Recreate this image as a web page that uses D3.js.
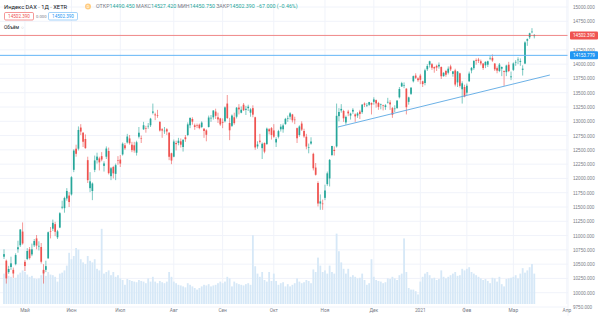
<!DOCTYPE html>
<html>
<head>
<meta charset="utf-8">
<script src="https://cdn.jsdelivr.net/npm/d3@7"></script>
<style>
  body { margin: 0; background: #fff; }
  svg { display: block; font-family: Roboto, "Noto Sans", sans-serif; }
</style>
</head>
<body>
<script>
// daily bars, DAX (XETR), 20 Apr 2020 - 12 Mar 2021: [open, high, low, close]
var candles = [
  // Apr
  [10630,10760,10590,10675],[10560,10580,10160,10250],[10360,10470,10330,10415],[10450,10630,10400,10514],[10400,10440,10260,10336],
  [10500,10690,10480,10659],[10760,10910,10700,10796],[10830,11110,10800,11107],[11070,11230,10840,10862],
  // May
  [10540,10570,10380,10467],[10590,10780,10570,10730],[10760,10800,10580,10606],[10670,10860,10640,10759],[10830,10940,10800,10904],
  [10950,11010,10760,10824],[10820,10900,10740,10820],[10800,10870,10510,10542],[10400,10500,10160,10337],[10400,10560,10360,10465],
  [10600,11070,10600,11058],[11080,11150,10950,11075],[11120,11280,11080,11223],[11200,11240,10990,11066],[10970,11100,10940,11074],
  [11140,11410,11130,11391],[11490,11610,11460,11504],[11480,11680,11400,11657],[11650,11830,11610,11781],[11700,11760,11500,11587],
  // Jun
  [11720,12040,11700,12021],[12150,12510,12110,12487],[12520,12590,12380,12431],[12520,12910,12490,12848],[12890,12950,12760,12820],
  [12800,12810,12550,12642],[12690,12770,12520,12530],[12320,12380,11920,11970],[11830,12110,11760,11949],[11780,11930,11620,11911],
  [12150,12400,12110,12315],[12320,12450,12260,12382],[12350,12380,12140,12281],[12390,12460,12300,12331],[12220,12300,12120,12262],
  [12380,12560,12340,12523],[12480,12540,12070,12093],[12040,12200,11970,12178],[12200,12220,12000,12089],[12080,12260,11970,12232],
  [12320,12390,12240,12311],
  // Jul
  [12330,12410,12200,12260],[12420,12630,12400,12608],[12580,12620,12500,12528],[12630,12780,12610,12733],[12700,12760,12590,12616],
  [12590,12640,12460,12495],[12580,12640,12450,12489],[12450,12660,12400,12633],[12730,12900,12700,12800],[12700,12750,12620,12697],
  [12860,12990,12850,12931],[12880,12920,12800,12874],[12920,12970,12870,12920],[12930,13060,12900,13046],[13150,13310,13120,13171],
  [13120,13150,13020,13104],[13110,13200,13060,13103],[12990,13000,12820,12838],[12860,12880,12710,12838],[12830,12900,12780,12836],
  [12860,12880,12760,12822],[12800,12810,12320,12379],[12440,12450,12250,12313],
  // Aug
  [12380,12680,12370,12646],[12620,12660,12490,12600],[12620,12710,12580,12660],[12650,12700,12540,12591],[12550,12690,12470,12674],
  [12720,12760,12640,12687],[12760,12980,12740,12946],[12930,13070,12880,13058],[13040,13070,12940,12993],[12930,12960,12850,12901],
  [12930,12960,12880,12920],[12940,12960,12860,12881],[12900,13000,12880,12977],[12870,12880,12710,12830],[12840,12860,12650,12764],
  [12900,13100,12890,13066],[13060,13110,12990,13061],[13070,13190,13030,13190],[13170,13220,13040,13096],[13070,13150,12970,13033],
  [13050,13060,12920,12945],
  // Sep
  [12990,13050,12880,12974],[13000,13260,12980,13243],[13310,13460,13040,13057],[12970,13060,12670,12842],[12920,13120,12900,13100],
  [13070,13150,12940,12968],[13080,13250,13050,13237],[13240,13300,13120,13209],[13150,13260,13140,13202],[13290,13320,13180,13194],
  [13200,13270,13110,13218],[13230,13290,13180,13256],[13150,13230,13080,13208],[13230,13280,13070,13116],[13070,13080,12500,12542],
  [12560,12650,12520,12594],[12660,12780,12610,12642],[12530,12630,12340,12607],[12620,12630,12440,12469],[12600,12890,12590,12871],
  [12860,12880,12770,12825],[12880,12900,12680,12761],
  // Oct
  [12840,12950,12710,12731],[12630,12720,12550,12689],[12730,12850,12700,12828],[12860,12950,12820,12906],[12860,12960,12800,12928],
  [12950,13060,12940,13042],[13040,13100,12990,13051],[13080,13160,13030,13139],[13120,13130,12980,13018],[13030,13080,12950,13028],
  [12880,12890,12620,12703],[12760,12930,12730,12909],[12960,13000,12830,12854],[12830,12870,12710,12736],[12730,12780,12510,12558],
  [12540,12610,12440,12543],[12610,12720,12590,12646],[12430,12450,12140,12178],[12190,12270,12050,12064],[11920,11950,11510,11561],
  [11560,11720,11450,11598],[11560,11630,11450,11556],
  // Nov
  [11660,11890,11620,11789],[11900,12120,11870,12089],[12000,12340,11860,12324],[12410,12570,12390,12568],[12500,12560,12400,12480],
  [12560,13310,12540,13096],[13090,13230,13000,13163],[13190,13300,13150,13217],[13180,13200,12990,13052],[12980,13100,12940,13077],
  [13170,13200,13090,13139],[13100,13150,13030,13134],[13170,13230,13130,13201],[13120,13140,12990,13086],[13100,13160,13060,13137],
  [13170,13200,13040,13127],[13160,13300,13130,13292],[13310,13330,13250,13290],[13280,13320,13250,13286],[13290,13340,13270,13336],
  [13320,13330,13120,13291],
  // Dec
  [13340,13420,13290,13382],[13370,13380,13240,13313],[13320,13340,13200,13252],[13290,13310,13210,13298],[13280,13290,13190,13271],
  [13250,13300,13200,13278],[13340,13410,13310,13340],[13330,13370,13200,13296],[13230,13250,13060,13114],[13220,13280,13160,13223],
  [13230,13370,13220,13362],[13420,13600,13400,13565],[13610,13690,13600,13667],[13630,13680,13580,13630],[13570,13580,13120,13246],
  [13340,13430,13290,13418],[13480,13600,13460,13587],[13700,13800,13680,13790],[13800,13840,13740,13761],[13750,13770,13690,13719],
  // Jan
  [13800,13830,13650,13726],[13700,13710,13600,13651],[13670,13920,13630,13892],[13910,14000,13880,13968],[13990,14060,13940,14050],
  [14000,14020,13900,13937],[13950,13960,13850,13925],[13970,13990,13880,13940],[13960,14030,13920,13989],[13950,13960,13740,13788],
  [13790,13860,13780,13848],[13880,13900,13780,13815],[13850,13960,13820,13921],[13960,13990,13880,13907],[13830,13880,13780,13873],
  [13890,13920,13610,13643],[13680,13880,13600,13871],[13840,13850,13590,13620],[13560,13700,13310,13665],[13600,13640,13420,13433],
  // Feb
  [13500,13660,13460,13622],[13700,13870,13690,13835],[13890,13950,13840,13934],[13930,14060,13900,14060],[14070,14100,13990,14057],
  [14080,14110,14020,14059],[14050,14080,13980,14012],[14010,14020,13900,13933],[13980,14050,13930,14040],[13990,14060,13950,14050],
  [14100,14140,14070,14109],[14110,14170,14040,14064],[14010,14020,13880,13909],[13930,13960,13840,13887],[13880,14020,13860,13993],
  [13920,13960,13790,13950],[13880,13890,13620,13865],[13860,13990,13790,13976],[13990,14040,13860,13879],[13770,13870,13720,13786],
  // Mar
  [13900,14030,13880,14012],[14030,14070,13970,14039],[14070,14120,14000,14080],[14040,14100,13970,14056],[13900,13980,13800,13921],
  [14010,14400,14000,14380],[14410,14450,14320,14437],[14470,14550,14440,14540],[14560,14630,14540,14569],[14490,14527,14451,14502]
];

// volume, millions
var volumes = [
  95,100,88,85,80,82,92,98,105,
  100,92,85,88,80,78,80,90,105,88,100,92,90,85,70,95,98,105,120,160,
  140,150,175,170,140,130,125,150,135,130,140,110,105,235,95,100,105,90,100,85,90,
  80,75,60,78,75,72,70,68,75,72,70,65,80,70,85,70,65,72,68,65,70,100,85,
  70,65,60,58,55,52,65,60,55,50,45,50,55,60,58,62,55,58,60,65,70,
  65,70,85,80,55,70,65,62,60,58,62,65,60,215,118,95,85,100,75,70,100,72,
  95,72,60,65,68,55,62,55,60,65,80,70,65,68,75,72,65,108,100,145,120,100,
  105,95,120,100,95,220,165,130,110,95,110,85,90,85,80,82,95,75,60,65,140,
  85,75,72,70,65,68,80,78,85,80,75,90,95,205,100,50,45,45,40,30,
  70,85,95,100,90,80,82,75,78,105,85,80,85,90,95,100,88,90,110,105,
  110,115,100,95,90,85,80,75,78,72,65,82,80,70,85,62,55,78,80,82,
  85,90,80,95,112,98,105,115,125,95
];

var monthLabels = ['Май', 'Июн', 'Июл', 'Авг', 'Сен', 'Окт', 'Ноя', 'Дек', '2021', 'Фев', 'Мар', 'Апр'];
var monthBars = [9, 29, 50, 73, 94, 116, 138, 159, 179, 199, 219, 242];
var priceTicks = d3.range(9750, 15001, 250);
var trendLine = [[143.6, 12900], [234.7, 13810]];
var lastPrice = 14502.39, levelPrice = 14153.779;
var ohlcLabels = ['ОТКР', 'МАКС', 'МИН', 'ЗАКР'];
var ohlcValues = ['14490.450', '14527.420', '14450.750', '14502.390'];
var change = '−67.000 (−0.46%)';

var W = 600, H = 316, plotRight = 568;
var up = '#26a69a', down = '#ef5350', grid = '#f0f3fa', textGrey = '#787b86';

var svg = d3.select('body').append('svg').attr('width', W).attr('height', H);

var x = d3.scaleLinear().domain([0, 228]).range([4, 534.3]);
var y = d3.scaleLinear().domain([9750, 15000]).range([307, 7]);
var yVol = d3.scaleLinear().domain([0, 250]).range([304, 224]);

/* ----------- GRID ----------- */

svg.append('g').selectAll('line.h').data(priceTicks).enter().append('line')
    .attr('x1', 0).attr('x2', plotRight)
    .attr('y1', function (d) { return y(d); }).attr('y2', function (d) { return y(d); })
    .attr('stroke', grid).attr('stroke-width', 1);

svg.append('g').selectAll('line.v').data(monthBars).enter().append('line')
    .attr('x1', function (d) { return x(d); }).attr('x2', function (d) { return x(d); })
    .attr('y1', 0).attr('y2', 304)
    .attr('stroke', grid).attr('stroke-width', 1);

/* ----------- VOLUME ----------- */

svg.append('g').selectAll('rect').data(volumes).enter().append('rect')
    .attr('x', function (d, i) { return x(i) - 0.9; })
    .attr('width', 1.8)
    .attr('y', function (d) { return yVol(d); })
    .attr('height', function (d) { return yVol(0) - yVol(d); })
    .attr('fill', '#d6e8f7');

/* ----------- CANDLES ----------- */

var bar = svg.append('g').selectAll('g').data(candles).enter().append('g');

bar.append('line')
    .attr('x1', function (d, i) { return x(i); }).attr('x2', function (d, i) { return x(i); })
    .attr('y1', function (d) { return y(d[1]); }).attr('y2', function (d) { return y(d[2]); })
    .attr('stroke', function (d) { return d[3] >= d[0] ? up : down; })
    .attr('stroke-width', 0.6);

bar.append('rect')
    .attr('x', function (d, i) { return x(i) - 0.85; })
    .attr('width', 1.7)
    .attr('y', function (d) { return y(Math.max(d[0], d[3])); })
    .attr('height', function (d) { return Math.max(0.6, Math.abs(y(d[0]) - y(d[3]))); })
    .attr('fill', function (d) { return d[3] >= d[0] ? up : down; });

/* ----------- LEVELS ----------- */

svg.append('line')
    .attr('x1', 0).attr('x2', plotRight).attr('y1', y(lastPrice)).attr('y2', y(lastPrice))
    .attr('stroke', '#ef5350').attr('stroke-opacity', 0.75).attr('stroke-width', 0.9);

svg.append('line')
    .attr('x1', 0).attr('x2', plotRight).attr('y1', y(levelPrice)).attr('y2', y(levelPrice))
    .attr('stroke', '#64b5f6').attr('stroke-width', 1);

svg.append('line')
    .attr('x1', x(trendLine[0][0])).attr('y1', y(trendLine[0][1]))
    .attr('x2', x(trendLine[1][0])).attr('y2', y(trendLine[1][1]))
    .attr('stroke', '#5ba8e3').attr('stroke-width', 0.9);

/* ----------- AXES ----------- */

var yAxis = svg.append('g')
    .attr('transform', 'translate(' + (plotRight + 2) + ',0)')
    .call(d3.axisRight(y).tickValues(priceTicks).tickFormat(d3.format('.3f')).tickSize(0).tickPadding(3));
yAxis.select('.domain').remove();
yAxis.selectAll('text').attr('fill', textGrey).style('font-size', '4.6px');

svg.append('line')
    .attr('x1', plotRight).attr('x2', plotRight).attr('y1', 0).attr('y2', H)
    .attr('stroke', '#f0f3fa');

svg.append('g').selectAll('text').data(monthLabels).enter().append('text')
    .attr('x', function (d, i) { return x(monthBars[i]); })
    .attr('y', 312)
    .attr('text-anchor', 'middle')
    .attr('fill', textGrey)
    .style('font-size', '4.8px')
    .text(function (d) { return d; });

function priceTag(v, color) {
    svg.append('rect')
        .attr('x', plotRight + 2).attr('y', y(v) - 4)
        .attr('width', 28).attr('height', 8).attr('rx', 1)
        .attr('fill', color);
    svg.append('text')
        .attr('x', plotRight + 5).attr('y', y(v) + 1.7)
        .attr('fill', '#fff').style('font-size', '4.6px')
        .text(d3.format('.3f')(v));
}
priceTag(lastPrice, '#ef5350');
priceTag(levelPrice, '#2196f3');

/* ----------- LEGEND ----------- */

svg.append('text')
    .attr('x', 4).attr('y', 8.5)
    .attr('fill', '#131722').style('font-size', '5.8px')
    .text('Индекс DAX · 1Д · XETR');

svg.append('circle').attr('cx', 88).attr('cy', 6.5).attr('r', 3).attr('fill', '#ffcc80');
svg.append('text').attr('x', 88).attr('y', 8.2).attr('text-anchor', 'middle')
    .attr('fill', '#fff').style('font-size', '4px').text('D');

var ohlc = svg.append('text').attr('x', 96).attr('y', 8.3).style('font-size', '5.3px');
ohlcLabels.forEach(function (l, i) {
    ohlc.append('tspan').attr('fill', textGrey).text((i ? ' ' : '') + l);
    ohlc.append('tspan').attr('fill', up).text(ohlcValues[i]);
});
ohlc.append('tspan').attr('fill', up).text(' ' + change);

svg.append('rect').attr('x', 4.5).attr('y', 12.5).attr('width', 29).attr('height', 7.5).attr('rx', 1.2)
    .attr('fill', '#fff').attr('stroke', '#ef5350').attr('stroke-width', 0.6);
svg.append('text').attr('x', 19).attr('y', 17.8).attr('text-anchor', 'middle')
    .attr('fill', '#ef5350').style('font-size', '4.6px').text('14502.390');
svg.append('text').attr('x', 36).attr('y', 17.8)
    .attr('fill', textGrey).style('font-size', '4.2px').text('0.000');
svg.append('rect').attr('x', 48.5).attr('y', 12.5).attr('width', 29).attr('height', 7.5).attr('rx', 1.2)
    .attr('fill', '#fff').attr('stroke', '#64b5f6').attr('stroke-width', 0.6);
svg.append('text').attr('x', 63).attr('y', 17.8).attr('text-anchor', 'middle')
    .attr('fill', '#2196f3').style('font-size', '4.6px').text('14502.390');

svg.append('text').attr('x', 4).attr('y', 29)
    .attr('fill', '#131722').style('font-size', '4.8px').text('Объём');
svg.append('text').attr('x', 21).attr('y', 29)
    .attr('fill', '#b2b5be').style('font-size', '4.8px').text('○');
</script>
</body>
</html>
